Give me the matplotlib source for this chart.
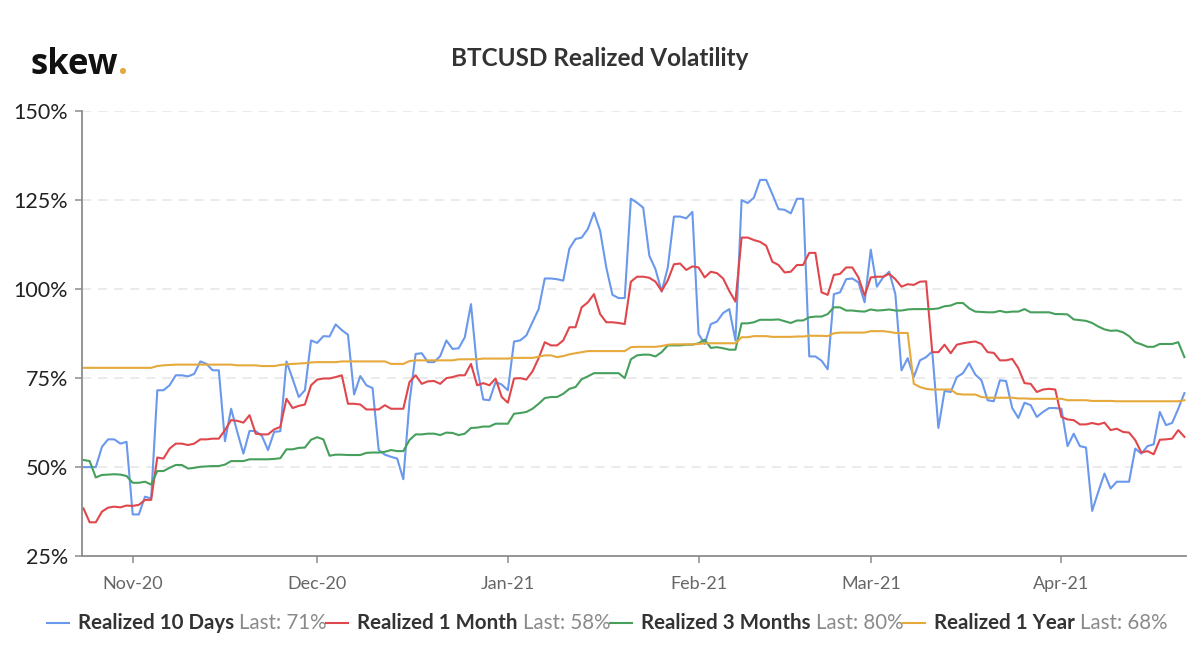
import pandas as pd
import matplotlib
matplotlib.use("Agg")
import matplotlib.pyplot as plt
import matplotlib.dates as mdates
from matplotlib.lines import Line2D
from matplotlib.ticker import FuncFormatter

plt.rcParams['font.family'] = ['Lato', 'DejaVu Sans']

# daily realized volatility (%), starting 2020-10-24
start_date = '2020-10-24'

vol_10d = [
    50.0, 50.0, 50.0, 55.7, 57.8, 57.8, 56.6, 57.1, 36.7, 36.7,
    41.7, 41.2, 71.6, 71.6, 73.0, 75.8, 75.8, 75.5, 76.2, 79.7,
    79.0, 77.2, 77.2, 57.3, 66.4, 59.9, 53.8, 60.2, 60.1, 58.8,
    54.8, 59.9, 60.1, 79.7, 74.8, 69.7, 71.6, 85.6, 84.9, 86.8,
    86.7, 90.1, 88.5, 87.2, 70.4, 75.6, 73.0, 72.2, 54.8, 53.5,
    52.9, 52.4, 46.6, 68.3, 81.8, 82.0, 79.5, 79.5, 81.2, 85.6,
    83.2, 83.4, 86.5, 95.8, 77.8, 69.0, 68.8, 73.9, 73.2, 71.6,
    85.3, 85.6, 87.0, 90.7, 94.4, 103.0, 103.0, 102.8, 102.4, 111.4,
    114.1, 114.5, 116.9, 121.5, 116.4, 106.1, 98.4, 97.5, 97.5, 125.4,
    124.3, 122.9, 109.4, 105.6, 99.3, 106.1, 120.4, 120.4, 119.9, 121.7,
    87.4, 84.6, 90.2, 90.9, 93.3, 94.4, 85.6, 125.0, 124.2, 125.7,
    130.7, 130.7, 126.7, 122.5, 122.3, 121.3, 125.4, 125.4, 81.1, 81.1,
    79.9, 77.5, 98.6, 99.1, 102.8, 103.0, 101.9, 96.3, 111.1, 100.7,
    103.3, 104.9, 98.6, 77.2, 80.6, 75.3, 80.0, 80.9, 82.5, 61.0,
    71.4, 71.1, 75.3, 76.4, 79.2, 76.0, 74.4, 68.8, 68.5, 74.4,
    74.2, 66.6, 63.8, 68.1, 67.4, 64.1, 65.5, 66.6, 66.6, 66.4,
    55.9, 59.4, 55.9, 55.5, 37.7, 43.1, 48.2, 44.0, 45.9, 45.9,
    45.9, 55.2, 53.8, 55.9, 56.4, 65.5, 61.8, 62.4, 66.4, 70.8,
]

vol_1m = [
    38.4, 34.5, 34.5, 37.5, 38.6, 38.9, 38.7, 39.2, 39.1, 39.4,
    40.8, 40.8, 52.7, 52.4, 55.2, 56.6, 56.6, 56.2, 56.6, 57.8,
    57.8, 58.0, 58.0, 60.4, 63.2, 63.0, 62.5, 64.6, 59.4, 59.2,
    59.2, 60.6, 61.3, 69.2, 66.6, 67.2, 67.6, 73.0, 74.6, 74.9,
    74.9, 75.3, 75.8, 67.8, 67.8, 67.6, 66.2, 66.2, 66.2, 67.4,
    66.4, 66.4, 66.4, 73.9, 75.8, 73.4, 74.1, 74.2, 73.4, 75.0,
    75.3, 75.8, 75.8, 79.0, 73.0, 73.6, 73.0, 74.9, 69.7, 68.1,
    74.9, 75.0, 74.6, 76.9, 80.6, 85.1, 84.2, 84.2, 85.6, 89.3,
    89.3, 94.9, 96.3, 98.6, 93.0, 90.7, 90.7, 90.5, 90.2, 102.1,
    103.5, 103.5, 103.2, 102.1, 99.5, 102.5, 107.0, 107.2, 105.4, 106.4,
    106.1, 103.3, 104.9, 104.5, 103.0, 99.5, 96.5, 114.5, 114.5, 113.8,
    113.3, 112.2, 107.7, 106.8, 104.7, 104.9, 106.8, 106.8, 110.2, 110.2,
    99.1, 98.4, 104.0, 104.3, 106.1, 106.1, 103.3, 98.2, 103.3, 103.5,
    103.5, 104.3, 102.8, 100.7, 101.4, 101.2, 102.1, 102.2, 82.3, 82.3,
    84.4, 82.0, 84.4, 84.8, 85.1, 85.3, 84.6, 82.3, 82.1, 80.0,
    80.0, 80.4, 77.8, 73.6, 73.4, 71.1, 71.8, 72.0, 71.8, 64.1,
    63.4, 63.2, 62.0, 62.0, 62.4, 62.0, 62.5, 60.4, 60.8, 59.9,
    59.7, 57.6, 54.1, 54.5, 53.6, 57.7, 57.8, 58.0, 60.4, 58.5,
]

vol_3m = [
    52.0, 51.7, 47.1, 47.8, 47.9, 48.0, 47.9, 47.5, 45.6, 45.6,
    45.9, 45.1, 48.9, 48.9, 49.8, 50.6, 50.6, 49.6, 49.8, 50.1,
    50.2, 50.3, 50.3, 50.7, 51.7, 51.7, 51.7, 52.2, 52.2, 52.2,
    52.2, 52.3, 52.5, 55.0, 55.0, 55.4, 55.5, 57.7, 58.4, 57.8,
    53.2, 53.5, 53.5, 53.4, 53.4, 53.4, 54.0, 54.1, 54.1, 54.3,
    54.8, 54.5, 54.5, 57.6, 59.2, 59.2, 59.4, 59.4, 59.0, 59.7,
    59.6, 59.0, 59.4, 61.0, 61.1, 61.4, 61.4, 62.2, 62.2, 62.2,
    65.0, 65.2, 65.5, 66.4, 67.8, 69.4, 69.7, 69.7, 70.6, 72.0,
    72.5, 74.7, 75.5, 76.4, 76.4, 76.4, 76.4, 76.4, 75.0, 80.3,
    81.4, 81.6, 81.6, 81.1, 82.3, 84.2, 84.2, 84.2, 84.4, 84.4,
    84.8, 85.8, 83.5, 83.7, 83.4, 83.0, 83.0, 90.4, 90.4, 90.7,
    91.4, 91.4, 91.4, 91.5, 91.0, 90.5, 91.2, 91.2, 92.1, 92.3,
    92.3, 93.0, 94.9, 94.9, 94.0, 94.0, 93.8, 93.7, 94.3, 94.0,
    94.1, 94.3, 94.0, 94.0, 94.3, 94.4, 94.4, 94.4, 94.4, 94.6,
    95.2, 95.4, 96.1, 96.1, 94.6, 93.7, 93.6, 93.5, 93.5, 93.9,
    93.5, 93.7, 93.7, 94.4, 93.5, 93.5, 93.5, 93.5, 93.0, 93.0,
    92.9, 91.5, 91.3, 91.1, 90.5, 89.5, 88.7, 88.3, 88.4, 87.9,
    86.8, 85.1, 84.5, 83.8, 83.8, 84.6, 84.6, 84.6, 85.1, 80.9,
]

vol_1y = [
    77.9, 77.9, 77.9, 77.9, 77.9, 77.9, 77.9, 77.9, 77.9, 77.9,
    77.9, 77.9, 78.4, 78.6, 78.7, 78.8, 78.8, 78.8, 78.8, 78.8,
    78.8, 78.8, 78.8, 78.8, 78.8, 78.6, 78.6, 78.6, 78.6, 78.4,
    78.4, 78.4, 78.7, 78.9, 79.0, 79.1, 79.2, 79.4, 79.5, 79.5,
    79.5, 79.5, 79.7, 79.7, 79.7, 79.7, 79.7, 79.7, 79.7, 79.7,
    79.0, 79.0, 79.0, 79.8, 80.0, 80.0, 80.0, 80.0, 80.0, 80.0,
    80.0, 80.3, 80.3, 80.3, 80.3, 80.5, 80.5, 80.5, 80.5, 80.5,
    80.7, 80.7, 80.7, 80.7, 81.0, 81.4, 81.4, 80.9, 81.2, 81.7,
    82.0, 82.3, 82.6, 82.6, 82.6, 82.6, 82.6, 82.6, 82.6, 83.7,
    83.8, 83.8, 83.8, 83.8, 84.0, 84.4, 84.5, 84.5, 84.5, 84.5,
    84.6, 84.8, 84.8, 84.8, 84.8, 84.8, 84.8, 86.5, 86.5, 86.8,
    86.8, 86.8, 86.6, 86.6, 86.6, 86.6, 86.7, 86.7, 86.9, 86.9,
    86.9, 86.8, 87.6, 87.8, 87.8, 87.8, 87.8, 87.8, 88.2, 88.2,
    88.2, 88.0, 87.7, 87.7, 87.7, 73.4, 72.5, 72.0, 71.8, 71.8,
    71.8, 71.8, 70.6, 70.4, 70.4, 70.4, 69.7, 69.5, 69.5, 69.5,
    69.5, 69.5, 69.3, 69.3, 69.2, 69.2, 69.2, 69.2, 69.2, 69.2,
    68.8, 68.8, 68.8, 68.8, 68.6, 68.6, 68.6, 68.6, 68.5, 68.5,
    68.5, 68.5, 68.5, 68.5, 68.5, 68.5, 68.5, 68.5, 68.5, 68.8,
]

series_names = ['Realized 10 Days', 'Realized 1 Month', 'Realized 3 Months', 'Realized 1 Year']
last_labels = ['Last: 71%', 'Last: 58%', 'Last: 80%', 'Last: 68%']
colors = ['#6a98ec', '#e0474c', '#46a05c', '#e6a93c']

dates = pd.date_range(start_date, periods=len(vol_10d), freq='D')

fig = plt.figure(figsize=(12, 6.7), dpi=100)
ax = fig.add_axes([0.0683, 0.170, 0.920, 0.664])

for vals, c in zip([vol_10d, vol_1m, vol_3m, vol_1y], colors):
    ax.plot(dates, vals, color=c, lw=1.5, solid_joinstyle='round')

ax.set_ylim(25, 150)
ax.set_yticks([25, 50, 75, 100, 125, 150])
ax.yaxis.set_major_formatter(FuncFormatter(lambda v, p: f'{v:.0f}%'))
ax.set_xlim(dates[0] - pd.Timedelta(hours=6), dates[-1] + pd.Timedelta(hours=6))
ax.xaxis.set_major_locator(mdates.MonthLocator())
ax.xaxis.set_major_formatter(mdates.DateFormatter('%b-%y'))

for v in [50, 75, 100, 125, 150]:
    ax.axhline(v, color='#e6e6e6', lw=1.1, dashes=(6, 4.5), zorder=0)

for s in ['top', 'right']:
    ax.spines[s].set_visible(False)
for s in ['left', 'bottom']:
    ax.spines[s].set_color('#8c8c8c')
    ax.spines[s].set_linewidth(1.3)

ax.tick_params(axis='y', length=5, width=1.1, color='#8c8c8c', pad=5,
               labelsize=15.5, labelcolor='#222222')
ax.tick_params(axis='x', length=5, width=1.1, color='#8c8c8c', pad=9,
               labelsize=13, labelcolor='#666666')

fig.text(0.5, 0.913, 'BTCUSD Realized Volatility', ha='center', va='center',
         fontsize=17.5, fontweight='bold', color='#333333')

# skew. logo
fig.canvas.draw()
renderer = fig.canvas.get_renderer()
logo = fig.text(0.025, 0.890, 'skew', fontsize=25, fontweight='bold',
                family='Open Sans', color='#111111', va='baseline')
bb = logo.get_window_extent(renderer)
fig.text(bb.x1 / fig.bbox.width, 0.890, '.', fontsize=25, fontweight='bold',
         family='Open Sans', color='#e6a93c', va='baseline')

# legend row at the bottom, laid out piece by piece
y_leg = 0.070
line_w = 22 / 1200
items = []
for name, last, c in zip(series_names, last_labels, colors):
    t1 = fig.text(0, y_leg, name, fontsize=14.8, fontweight='bold', color='#333333',
                  va='center')
    t2 = fig.text(0, y_leg, last, fontsize=14.8, color='#8a8a8a', va='center')
    items.append((c, t1, t2))

gap = 9 / 1200
space = 5 / 1200
total = 0
widths = []
for c, t1, t2 in items:
    w1 = t1.get_window_extent(renderer).width / fig.bbox.width
    w2 = t2.get_window_extent(renderer).width / fig.bbox.width
    widths.append((w1, w2))
    total += line_w + gap + w1 + space + w2
x = 0.506 - total / 2
for (c, t1, t2), (w1, w2) in zip(items, widths):
    fig.add_artist(Line2D([x, x + line_w], [y_leg, y_leg], color=c, lw=1.5,
                          transform=fig.transFigure))
    x += line_w + gap
    t1.set_x(x)
    x += w1 + space
    t2.set_x(x)
    x += w2

fig.savefig('out.png', dpi=100)
